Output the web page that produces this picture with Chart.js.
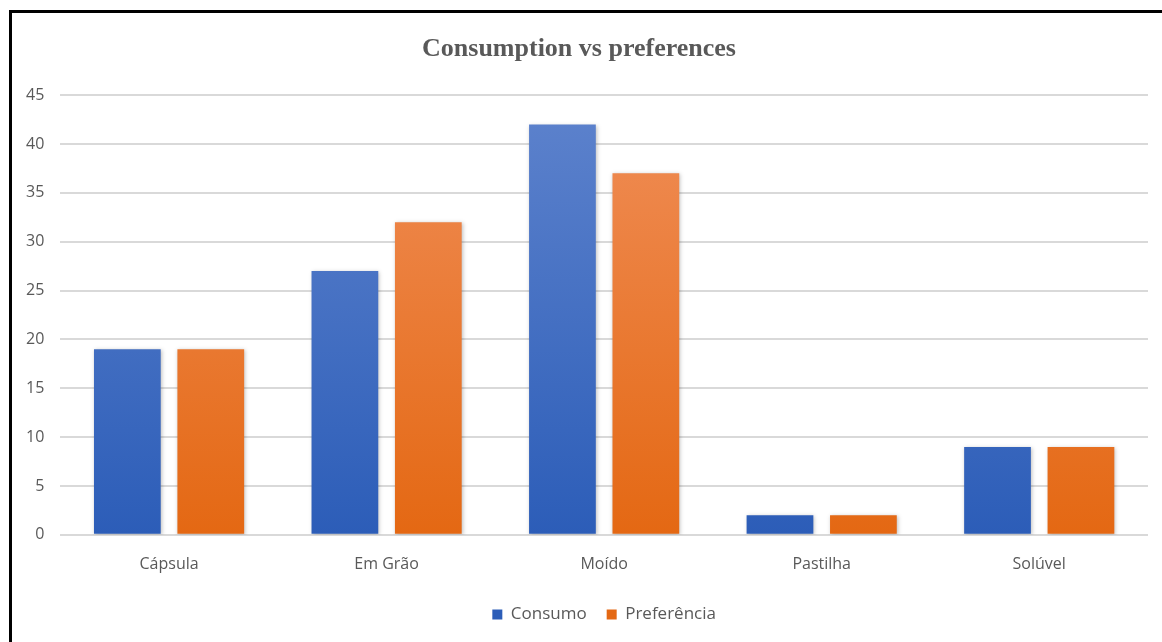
<!DOCTYPE html>
<html>
<head>
<meta charset="utf-8">
<script src="https://cdn.jsdelivr.net/npm/chart.js@4"></script>
<style>
  html, body { margin: 0; padding: 0; background: #fff; }
  #wrap { position: relative; width: 1162px; height: 642px; }
  #frame { position: absolute; left: 9px; top: 10px; right: -10px; bottom: -10px;
           border-left: 3px solid #000; border-top: 3px solid #000; }
  canvas { position: absolute; left: 0; top: 0; }
</style>
</head>
<body>
<div id="wrap">
  <div id="frame"></div>
  <canvas id="coffeeChart" width="1162" height="642"></canvas>
</div>
<script>
const categories = ['Cápsula', 'Em Grão', 'Moído', 'Pastilha', 'Solúvel'];
const consumo = [19, 27, 42, 2, 9];
const preferencia = [19, 32, 37, 2, 9];
const yTicks = [0, 5, 10, 15, 20, 25, 30, 35, 40, 45];

// vertical gradient spanning the plot area
function barGradient(context, top, bottom) {
    const area = context.chart.chartArea;
    if (!area) return bottom;
    const g = context.chart.ctx.createLinearGradient(0, area.top, 0, area.bottom);
    g.addColorStop(0, top);
    g.addColorStop(1, bottom);
    return g;
}

// soft shadow behind the bars
const barShadow = {
    id: 'barShadow',
    beforeDatasetsDraw(chart) {
        chart.ctx.save();
        chart.ctx.shadowColor = 'rgba(0,0,0,0.25)';
        chart.ctx.shadowBlur = 4;
        chart.ctx.shadowOffsetX = 1;
        chart.ctx.shadowOffsetY = 1;
    },
    afterDatasetsDraw(chart) {
        chart.ctx.restore();
    }
};

const ctx = document.getElementById('coffeeChart').getContext('2d');
new Chart(ctx, {
    type: 'bar',
    data: {
        labels: categories,
        datasets: [{
            label: 'Consumo',
            data: consumo,
            backgroundColor: (c) => barGradient(c, '#5e83cd', '#2c5db8')
        }, {
            label: 'Preferência',
            data: preferencia,
            backgroundColor: (c) => barGradient(c, '#f08e58', '#e46813')
        }]
    },
    options: {
        responsive: false,
        animation: false,
        layout: { padding: { left: 10, right: 14, top: 10, bottom: 9 } },
        categoryPercentage: 0.767,
        barPercentage: 0.8,
        scales: {
            x: {
                grid: { display: false },
                border: { display: false },
                ticks: { color: '#595959', font: { family: 'Open Sans', size: 16 }, padding: 12 }
            },
            y: {
                min: 0,
                max: 45,
                afterBuildTicks: (axis) => { axis.ticks = yTicks.map(v => ({ value: v })); },
                grid: { color: '#d9d9d9', lineWidth: 2, drawTicks: false },
                border: { display: false },
                ticks: { color: '#595959', font: { family: 'Open Sans', size: 16 }, padding: 16 }
            }
        },
        plugins: {
            title: {
                display: true,
                text: 'Consumption vs preferences',
                color: '#595959',
                font: { family: 'Liberation Serif', size: 26, weight: 'bold' },
                padding: { top: 24, bottom: 30 }
            },
            legend: {
                position: 'bottom',
                fullSize: false,
                labels: {
                    color: '#595959',
                    font: { family: 'Open Sans', size: 17 },
                    boxWidth: 10,
                    boxHeight: 10,
                    padding: 20
                }
            },
            tooltip: { enabled: false }
        }
    },
    plugins: [barShadow]
});
</script>
</body>
</html>
